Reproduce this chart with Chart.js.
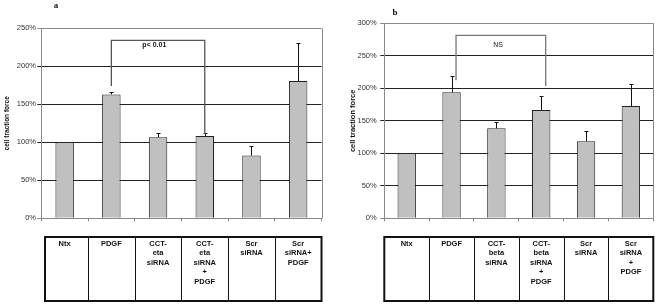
<!DOCTYPE html>
<html><head><meta charset="utf-8">
<script src="https://cdn.jsdelivr.net/npm/chart.js@4/dist/chart.umd.min.js"></script>
<style>
html,body{margin:0;padding:0;background:#fff;overflow:hidden;}
#ca{position:absolute;left:0;top:0;}
#cb{position:absolute;left:330px;top:0;}
</style></head><body>
<canvas id="ca" width="330" height="307"></canvas>
<canvas id="cb" width="332" height="307"></canvas>
<script>
// ---- data ----
const categoriesA = [['Ntx'], ['PDGF'], ['CCT-', 'eta', 'siRNA'], ['CCT-', 'eta', 'siRNA', '+', 'PDGF'], ['Scr', 'siRNA'], ['Scr', 'siRNA+', 'PDGF']];
const valuesA = [100, 163, 106.6, 108.3, 82.5, 180.7];
const errorsA = [0, 3, 5.2, 4, 13.1, 49.3];
const ticksA = [0, 50, 100, 150, 200, 250];
const bracketA = [1, 3, 234, 174, 111];      // from idx, to idx, top value, left leg end, right leg end
const bracketLabelA = 'p< 0.01';
const panelLabelA = 'a';

const categoriesB = [['Ntx'], ['PDGF'], ['CCT-', 'beta', 'siRNA'], ['CCT-', 'beta', 'siRNA', '+', 'PDGF'], ['Scr', 'siRNA'], ['Scr', 'siRNA', '+', 'PDGF']];
const valuesB = [100, 193.8, 138.5, 166.7, 118.5, 172.8];
const errorsB = [0, 24.7, 10.2, 22, 15.9, 34.4];
const ticksB = [0, 50, 100, 150, 200, 250, 300];
const bracketB = [1, 3, 281.5, 212.3, 203.6];
const bracketLabelB = 'NS';
const panelLabelB = 'b';

const yTitle = 'cell traction force';

function makePlugin(cfg) {
  return {
    id: 'extras',
    afterDatasetsDraw(chart) {
      const ctx = chart.ctx;
      const x = chart.scales.x, y = chart.scales.y;
      const ca = chart.chartArea;
      const catW = x.getPixelForValue(1) - x.getPixelForValue(0);
      const px = i => x.getPixelForValue(0) + i * catW;
      ctx.save();
      // plot border (right side)
      ctx.strokeStyle = '#8a8a8a';
      ctx.lineWidth = 1;
      ctx.beginPath();
      ctx.moveTo(Math.round(ca.right) + 0.5, ca.top);
      ctx.lineTo(Math.round(ca.right) + 0.5, ca.bottom);
      ctx.stroke();
      // error bars (upper only)
      ctx.strokeStyle = '#111';
      ctx.lineWidth = 1;
      cfg.values.forEach((v, i) => {
        const e = cfg.errors[i];
        if (!e) return;
        const cx = Math.round(x.getPixelForValue(i)) + 0.5;
        const y0 = y.getPixelForValue(v);
        const y1 = Math.round(y.getPixelForValue(v + e)) + 0.5;
        ctx.beginPath();
        ctx.moveTo(cx, y0);
        ctx.lineTo(cx, y1);
        ctx.moveTo(cx - 2, y1);
        ctx.lineTo(cx + 2, y1);
        ctx.stroke();
      });
      // bracket
      const br = cfg.bracket;
      const xl = px(br[0] + cfg.bracketShift), xr = px(br[1] + cfg.bracketShift);
      ctx.strokeStyle = cfg.bracketColor;
      ctx.lineWidth = 1.3;
      ctx.beginPath();
      ctx.moveTo(xl, y.getPixelForValue(br[3]));
      ctx.lineTo(xl, y.getPixelForValue(br[2]));
      ctx.lineTo(xr, y.getPixelForValue(br[2]));
      ctx.lineTo(xr, y.getPixelForValue(br[4]));
      ctx.stroke();
      ctx.fillStyle = '#111';
      ctx.font = cfg.bracketFont;
      ctx.textAlign = 'center';
      ctx.textBaseline = 'middle';
      ctx.fillText(cfg.bracketLabel, px(cfg.labelIdx), y.getPixelForValue(cfg.labelValue));
      ctx.restore();
    },
    afterDraw(chart) {
      const ctx = chart.ctx;
      const x = chart.scales.x;
      const catW = x.getPixelForValue(1) - x.getPixelForValue(0);
      const n = cfg.values.length;
      const left = x.getPixelForValue(0) - catW / 2;
      const top = 237, bottom = 301;
      ctx.save();
      ctx.strokeStyle = '#111';
      ctx.lineWidth = 1;
      for (let i = 1; i < n; i++) {
        const bx = Math.round(left + i * catW) + 0.5;
        ctx.beginPath();
        ctx.moveTo(bx, top);
        ctx.lineTo(bx, bottom);
        ctx.stroke();
      }
      ctx.lineWidth = 2;
      ctx.strokeRect(left + cfg.tableInset, top, (left + n * catW) - (left + cfg.tableInset), bottom - top);
      // panel letter
      ctx.fillStyle = '#111';
      ctx.font = 'bold 9px "Liberation Serif", serif';
      ctx.textAlign = 'center';
      ctx.textBaseline = 'middle';
      ctx.fillText(cfg.panel, cfg.panelX, cfg.panelY);
      ctx.restore();
    }
  };
}

function build(id, cfg) {
  const ch = new Chart(document.getElementById(id), {
    type: 'bar',
    data: {
      labels: cfg.categories,
      datasets: [{
        data: cfg.values,
        backgroundColor: '#c0c0c0',
        borderColor: '#222',
        borderWidth: 1,
        categoryPercentage: 1,
        barPercentage: cfg.barPct
      }]
    },
    options: {
      responsive: false,
      animation: false,
      events: [],
      layout: { padding: { left: 0, right: cfg.padRight, top: cfg.padTop, bottom: 0 } },
      plugins: { legend: { display: false }, tooltip: { enabled: false }, title: { display: false } },
      scales: {
        x: {
          offset: true,
          grid: { display: true, drawOnChartArea: false, offset: true, tickLength: 3, color: '#888' },
          border: { display: true, color: '#8a8a8a' },
          ticks: {
            autoSkip: false, maxRotation: 0, minRotation: 0,
            padding: 18,
            color: '#111',
            font: { family: 'Arial, "Liberation Sans", sans-serif', size: 7.5, weight: 'bold', lineHeight: 1.25 }
          },
          afterFit(s) { s.height = 307 - cfg.plotBottom; }
        },
        y: {
          min: 0, max: cfg.ticks[cfg.ticks.length - 1],
          afterBuildTicks(s) { s.ticks = cfg.ticks.map(v => ({ value: v })); },
          grid: {
            tickLength: 4,
            color: c => (c.tick && (c.tick.value === cfg.ticks[cfg.ticks.length - 1] || c.tick.value === 0)) ? '#8a8a8a' : '#222',
            lineWidth: 1
          },
          border: { display: true, color: '#8a8a8a' },
          ticks: {
            padding: cfg.yTickPad,
            color: '#333',
            font: { family: 'Arial, "Liberation Sans", sans-serif', size: 7.5 },
            callback: v => v + '%'
          },
          title: {
            display: true,
            text: yTitle,
            color: '#111',
            padding: { top: cfg.yTitlePad, bottom: 0 },
            font: { family: 'Arial, "Liberation Sans", sans-serif', size: cfg.yTitleSize, weight: 'bold' }
          },
          afterFit(s) { s.width = cfg.yWidth; }
        }
      }
    },
    plugins: [makePlugin(cfg)]
  });
  return ch;
}

build('ca', {
  categories: categoriesA, values: valuesA, errors: errorsA, ticks: ticksA,
  bracket: bracketA, bracketLabel: bracketLabelA, panel: panelLabelA,
  bracketShift: 0, bracketColor: '#555', bracketFont: 'bold 7px Arial, "Liberation Sans", sans-serif',
  labelIdx: 1.92, labelValue: 228,
  barPct: 0.395, padRight: 4.7, padTop: 28.3, plotBottom: 218.3,
  yWidth: 41.3, yTickPad: 1.3, yTitlePad: 3.6, yTitleSize: 6.5,
  tableInset: 3.7, panelX: 56, panelY: 6
});
build('cb', {
  categories: categoriesB, values: valuesB, errors: errorsB, ticks: ticksB,
  bracket: bracketB, bracketLabel: bracketLabelB, panel: panelLabelB,
  bracketShift: 0.1, bracketColor: '#777', bracketFont: '7px Arial, "Liberation Sans", sans-serif',
  labelIdx: 2.04, labelValue: 266.6,
  barPct: 0.41, padRight: 8.7, padTop: 23.3, plotBottom: 218.3,
  yWidth: 54.3, yTickPad: 3.6, yTitlePad: 18, yTitleSize: 7.5,
  tableInset: 0, panelX: 65, panelY: 13
});
</script>
</body></html>
